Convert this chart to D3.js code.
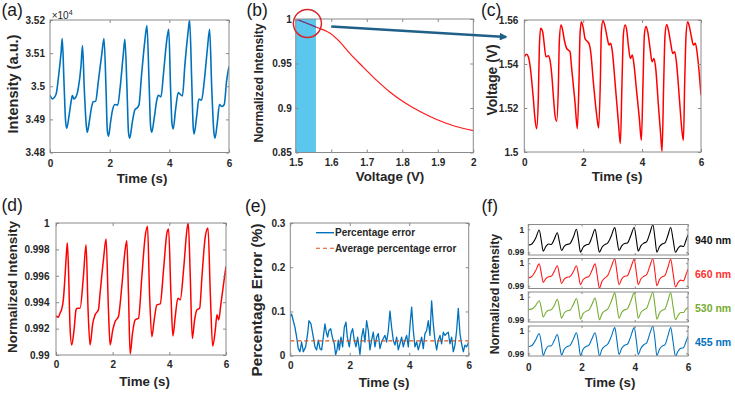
<!DOCTYPE html>
<html>
<head>
<meta charset="utf-8">
<script src="https://cdn.jsdelivr.net/npm/d3@7"></script>
<style>
  body { margin: 0; background: #fff; }
  svg { display: block; font-family: "Liberation Sans", Arial, sans-serif; }
</style>
</head>
<body>
<div id="chart"></div>
<script>
// ---- data ----
const timeTicks = [0, 2, 4, 6];

// (a) raw intensity, in units of 1e4
const aTime = [0.00,0.08,0.20,0.30,0.37,0.41,0.47,0.52,0.56,0.64,0.71,0.75,0.80,0.86,0.95,1.04,1.09,1.15,1.22,1.25,1.32,1.40,1.45,1.53,1.62,1.74,1.81,1.88,1.92,1.96,2.03,2.10,2.18,2.27,2.35,2.46,2.51,2.58,2.63,2.67,2.76,2.85,2.90,2.98,3.07,3.18,3.25,3.32,3.37,3.41,3.49,3.58,3.63,3.72,3.80,3.91,3.98,4.04,4.09,4.13,4.21,4.30,4.36,4.44,4.52,4.63,4.68,4.75,4.80,4.83,4.92,4.99,5.08,5.17,5.28,5.35,5.42,5.49,5.53,5.61,5.68,5.76,5.84,5.92,6.00];
const aIntensity = [3.4973,3.4962,3.4975,3.5040,3.5100,3.5144,3.5010,3.4898,3.4873,3.4912,3.4955,3.4972,3.4962,3.4966,3.4995,3.5062,3.5123,3.4990,3.4878,3.4861,3.4895,3.4940,3.4953,3.4955,3.5015,3.5100,3.5144,3.4985,3.4868,3.4849,3.4892,3.4930,3.4945,3.4943,3.4995,3.5100,3.5142,3.4995,3.4862,3.4843,3.4892,3.4930,3.4933,3.4943,3.5035,3.5138,3.5183,3.5015,3.4882,3.4861,3.4902,3.4958,3.4973,3.4968,3.5034,3.5136,3.5172,3.4998,3.4886,3.4871,3.4930,3.4981,3.4976,3.4971,3.5063,3.5165,3.5200,3.5018,3.4877,3.4856,3.4912,3.4961,3.4958,3.5015,3.5117,3.5172,3.4998,3.4865,3.4843,3.4892,3.4945,3.4939,3.4945,3.5016,3.5060];
const aTicks = [3.48, 3.49, 3.5, 3.51, 3.52];

// (b) normalized intensity vs voltage
const bVoltage = [1.5,1.559,1.597,1.625,1.653,1.69,1.728,1.765,1.803,1.85,1.897,1.944,2.0];
const bNormIntensity = [1.0,0.9907,0.984,0.974,0.961,0.946,0.931,0.918,0.907,0.896,0.887,0.880,0.8746];
const bVoltTicks = [1.5, 1.6, 1.7, 1.8, 1.9, 2];
const bTicks = [0.85, 0.9, 0.95, 1];
const bBand = [1.5, 1.557];

// (c) voltage
const cTime = [0.000,0.079,0.136,0.193,0.306,0.362,0.419,0.476,0.510,0.555,0.623,0.668,0.736,0.815,0.872,0.929,0.985,1.042,1.099,1.155,1.189,1.246,1.302,1.359,1.438,1.495,1.552,1.608,1.721,1.801,1.857,1.891,1.937,2.005,2.061,2.152,2.208,2.254,2.344,2.458,2.525,2.582,2.616,2.673,2.741,2.820,2.877,2.933,2.990,3.080,3.194,3.262,3.318,3.364,3.420,3.477,3.533,3.601,3.669,3.726,3.816,3.907,3.975,4.032,4.077,4.134,4.190,4.270,4.337,4.405,4.462,4.553,4.632,4.677,4.734,4.779,4.836,4.904,4.972,5.040,5.108,5.176,5.266,5.357,5.402,5.447,5.493,5.549,5.606,5.685,5.742,5.810,5.878,5.946,6.000];
const cVoltage = [1.5433,1.5444,1.5433,1.5395,1.5243,1.5152,1.5106,1.5243,1.5471,1.5562,1.5547,1.5501,1.5433,1.5437,1.5418,1.5357,1.5258,1.5167,1.5140,1.5289,1.5501,1.5577,1.5554,1.5509,1.5471,1.5463,1.5456,1.5380,1.5228,1.5106,1.5319,1.5532,1.5592,1.5562,1.5516,1.5501,1.5489,1.5456,1.5319,1.5167,1.5109,1.5319,1.5547,1.5598,1.5570,1.5516,1.5486,1.5494,1.5456,1.5319,1.5137,1.5038,1.5319,1.5532,1.5577,1.5554,1.5486,1.5425,1.5441,1.5395,1.5273,1.5152,1.5053,1.5319,1.5532,1.5570,1.5547,1.5471,1.5410,1.5425,1.5380,1.5213,1.5076,1.5003,1.5319,1.5532,1.5580,1.5547,1.5494,1.5448,1.5456,1.5395,1.5243,1.5091,1.5053,1.5319,1.5532,1.5592,1.5570,1.5516,1.5486,1.5494,1.5441,1.5349,1.5258];
const cTicks = [1.5, 1.52, 1.54, 1.56];

// (d) normalized intensity
const dTime = [0,0.083,0.141,0.200,0.259,0.318,0.377,0.401,0.448,0.495,0.554,0.637,0.707,0.754,0.849,0.967,1.061,1.132,1.202,1.297,1.379,1.497,1.556,1.674,1.768,1.851,1.910,2.004,2.087,2.204,2.322,2.440,2.499,2.558,2.617,2.700,2.794,2.912,3.030,3.148,3.230,3.301,3.383,3.466,3.560,3.678,3.796,3.914,3.973,4.055,4.126,4.208,4.303,4.385,4.503,4.621,4.668,4.739,4.810,4.892,4.975,5.069,5.152,5.270,5.364,5.446,5.529,5.623,5.682,5.741,5.823,5.918,6.000];
const dNormIntensity = [0.99296,0.99286,0.99316,0.99347,0.99418,0.99595,0.99797,0.99848,0.99595,0.99215,0.99076,0.99190,0.99342,0.99354,0.99354,0.99595,0.99835,0.99342,0.99076,0.99240,0.99304,0.99342,0.99468,0.99721,0.99878,0.99342,0.99076,0.99190,0.99253,0.99291,0.99519,0.99797,0.99866,0.99468,0.99007,0.99164,0.99266,0.99278,0.99595,0.99899,0.99975,0.99468,0.99139,0.99266,0.99380,0.99387,0.99646,0.99924,0.99954,0.99468,0.99144,0.99291,0.99430,0.99418,0.99646,0.99949,1.00000,0.99595,0.99126,0.99266,0.99342,0.99354,0.99595,0.99899,0.99962,0.99468,0.99068,0.99190,0.99304,0.99266,0.99392,0.99544,0.99671];
const dTicks = [0.99, 0.992, 0.994, 0.996, 0.998, 1];

// (e) percentage error
const eTime = [0.000,0.045,0.100,0.157,0.213,0.269,0.325,0.381,0.437,0.516,0.583,0.628,0.695,0.774,0.830,0.886,0.942,0.998,1.054,1.110,1.166,1.211,1.256,1.300,1.357,1.413,1.480,1.525,1.570,1.614,1.648,1.704,1.760,1.816,1.872,1.917,1.984,2.040,2.096,2.152,2.209,2.265,2.343,2.399,2.455,2.511,2.567,2.623,2.679,2.735,2.791,2.848,2.904,2.960,3.016,3.072,3.128,3.184,3.240,3.296,3.352,3.408,3.464,3.520,3.576,3.632,3.688,3.744,3.800,3.857,3.913,3.969,4.025,4.081,4.137,4.193,4.249,4.305,4.361,4.417,4.473,4.529,4.585,4.641,4.697,4.753,4.809,4.865,4.922,4.978,5.034,5.090,5.146,5.202,5.258,5.314,5.370,5.426,5.482,5.538,5.594,5.650,5.706,5.762,5.818,5.874,5.930,6.000];
const eError = [0.088,0.094,0.079,0.064,0.042,0.016,0.009,0.031,0.009,0.020,0.050,0.079,0.072,0.042,0.020,0.013,0.035,0.016,0.013,0.042,0.072,0.053,0.042,0.057,0.061,0.042,0.027,0.002,0.013,0.035,0.013,0.042,0.020,0.064,0.076,0.042,0.020,0.050,0.061,0.035,0.020,0.042,0.003,0.042,0.061,0.031,0.079,0.057,0.013,0.035,0.053,0.020,0.042,0.050,0.016,0.031,0.039,0.046,0.031,0.057,0.101,0.064,0.035,0.024,0.042,0.013,0.027,0.042,0.020,0.035,0.046,0.020,0.068,0.110,0.057,0.020,0.031,0.013,0.027,0.042,0.016,0.050,0.057,0.079,0.046,0.124,0.072,0.035,0.013,0.035,0.046,0.027,0.053,0.046,0.050,0.053,0.027,0.042,0.009,0.024,0.057,0.107,0.050,0.027,0.009,0.024,0.020,0.031];
const eAverageError = 0.0335;
const eTicks = [0, 0.1, 0.2, 0.3];
const eLegend = ["Percentage error", "Average percentage error"];

// (f) four wavelengths
const fTime = [0.00,0.12,0.28,0.41,0.49,0.56,0.66,0.76,0.86,0.98,1.09,1.17,1.25,1.35,1.46,1.56,1.69,1.81,1.89,1.96,2.06,2.17,2.27,2.39,2.51,2.59,2.67,2.77,2.88,2.98,3.12,3.25,3.33,3.41,3.51,3.62,3.72,3.85,3.98,4.06,4.13,4.23,4.34,4.44,4.56,4.68,4.76,4.83,4.93,5.03,5.13,5.24,5.35,5.44,5.53,5.63,5.73,5.83,5.92,6.00];
const f940 = [0.9931,0.9935,0.9962,0.9997,0.9950, 0.9905,0.9925,0.9936,0.9934,0.9958,0.9985,0.9945, 0.9908,0.9926,0.9934,0.9937,0.9965,1.0000,0.9950, 0.9900,0.9922,0.9932,0.9935,0.9966,1.0000,0.9950, 0.9900,0.9922,0.9934,0.9940,0.9972,1.0008,0.9955, 0.9908,0.9928,0.9938,0.9940,0.9972,1.0008,0.9955, 0.9905,0.9928,0.9940,0.9945,0.9980,1.0020,0.9960, 0.9900,0.9925,0.9936,0.9940,0.9972,1.0008,0.9955, 0.9900,0.9918,0.9928,0.9925,0.9950,0.9977];
const f660 = [0.9935,0.9940,0.9968,0.9997,0.9955, 0.9915,0.9932,0.9940,0.9942,0.9965,0.9989,0.9950, 0.9910,0.9930,0.9938,0.9940,0.9962,0.9989,0.9945, 0.9905,0.9928,0.9937,0.9940,0.9968,0.9997,0.9945, 0.9889,0.9920,0.9935,0.9945,0.9985,1.0020,0.9960, 0.9905,0.9930,0.9942,0.9945,0.9980,1.0017,0.9958, 0.9905,0.9930,0.9942,0.9948,0.9985,1.0020,0.9960, 0.9900,0.9928,0.9940,0.9945,0.9980,1.0017,0.9955, 0.9895,0.9915,0.9925,0.9922,0.9948,0.9974];
const f530 = [0.9943,0.9945,0.9962,0.9982,0.9950, 0.9910,0.9930,0.9940,0.9942,0.9962,0.9989,0.9950, 0.9905,0.9928,0.9938,0.9940,0.9965,0.9992,0.9950, 0.9900,0.9925,0.9936,0.9940,0.9966,0.9994,0.9950, 0.9898,0.9925,0.9938,0.9945,0.9980,1.0017,0.9960, 0.9905,0.9930,0.9942,0.9946,0.9980,1.0017,0.9960, 0.9905,0.9930,0.9942,0.9948,0.9985,1.0020,0.9960, 0.9900,0.9928,0.9940,0.9945,0.9980,1.0017,0.9955, 0.9898,0.9918,0.9930,0.9930,0.9945,0.9951];
const f455 = [0.9929,0.9933,0.9960,0.9988,0.9945, 0.9890,0.9918,0.9932,0.9933,0.9958,0.9983,0.9940, 0.9892,0.9918,0.9930,0.9934,0.9962,0.9991,0.9945, 0.9890,0.9918,0.9930,0.9935,0.9964,0.9991,0.9945, 0.9888,0.9918,0.9932,0.9940,0.9975,1.0014,0.9955, 0.9895,0.9922,0.9936,0.9940,0.9975,1.0014,0.9955, 0.9895,0.9922,0.9938,0.9945,0.9985,1.0020,0.9960, 0.9890,0.9918,0.9932,0.9937,0.9975,1.0014,0.9950, 0.9888,0.9910,0.9922,0.9925,0.9950,0.9975];
const fWavelengths = ["940 nm", "660 nm", "530 nm", "455 nm"];
const fTicks = [0.99, 1];

// ---- drawing ----
const boxColor = "#8a8a8a";
const textColor = "#262626";
const FONT = '"Liberation Sans", Arial, sans-serif';

const svg = d3.select("#chart").append("svg")
  .attr("width", 735)
  .attr("height", 393);
const defs = svg.append("defs");
let clipCount = 0;

// MATLAB-like box axes with inward ticks on all four sides
function axesBox(o) {
  const x = d3.scaleLinear().domain(o.xDomain).range([o.left, o.right]);
  const y = d3.scaleLinear().domain(o.yDomain).range([o.bottom, o.top]);
  const tick = o.tick || 3;
  const g = svg.append("g");

  const clipId = "clip" + (clipCount++);
  defs.append("clipPath").attr("id", clipId).append("rect")
    .attr("x", o.left).attr("y", o.top)
    .attr("width", o.right - o.left).attr("height", o.bottom - o.top);
  const plot = g.append("g").attr("clip-path", `url(#${clipId})`);

  const axes = g.append("g");
  axes.append("g")
    .attr("transform", `translate(0,${o.bottom})`)
    .call(d3.axisBottom(x).tickValues(o.xTicks).tickSizeInner(-tick).tickSizeOuter(0)
      .tickPadding(o.xPad == null ? 6 : o.xPad)
      .tickFormat(o.showX === false ? "" : d => String(d)))
    .selectAll("text").style("font-size", (o.xFont || 10) + "px");
  axes.append("g")
    .attr("transform", `translate(0,${o.top})`)
    .call(d3.axisTop(x).tickValues(o.xTicks).tickSizeInner(-tick).tickSizeOuter(0).tickFormat(""));
  axes.append("g")
    .attr("transform", `translate(${o.left},0)`)
    .call(d3.axisLeft(y).tickValues(o.yTicks).tickSizeInner(-tick).tickSizeOuter(0)
      .tickPadding(o.yPad == null ? 5 : o.yPad)
      .tickFormat(d => String(d)))
    .selectAll("text").style("font-size", (o.yFont || 10) + "px");
  axes.append("g")
    .attr("transform", `translate(${o.right},0)`)
    .call(d3.axisRight(y).tickValues(o.yTicks).tickSizeInner(-tick).tickSizeOuter(0).tickFormat(""));

  axes.selectAll("g").attr("font-family", FONT);
  axes.selectAll(".domain").remove();
  axes.selectAll(".tick line").attr("stroke", boxColor);
  axes.selectAll(".tick text").attr("fill", textColor).style("font-weight", "bold");

  axes.append("rect")
    .attr("x", o.left).attr("y", o.top)
    .attr("width", o.right - o.left).attr("height", o.bottom - o.top)
    .attr("fill", "none").attr("stroke", boxColor).attr("stroke-width", 1);

  return { x, y, plot, g };
}

function xLabel(cx, baseline, text, size) {
  svg.append("text")
    .attr("x", cx).attr("y", baseline)
    .attr("text-anchor", "middle")
    .style("font-size", size + "px").style("font-weight", "bold")
    .attr("fill", textColor)
    .text(text);
}

function yLabel(cx, cy, text, size) {
  svg.append("text")
    .attr("transform", `translate(${cx},${cy}) rotate(-90)`)
    .attr("text-anchor", "middle")
    .attr("dy", "0.35em")
    .style("font-size", size + "px").style("font-weight", "bold")
    .attr("fill", textColor)
    .text(text);
}

function panelTag(x, y, text) {
  svg.append("text")
    .attr("x", x).attr("y", y)
    .style("font-size", "17.5px")
    .attr("fill", "#1a1a1a")
    .text(text);
}

function drawLine(p, xs, ys, color, width, curve) {
  const line = d3.line()
    .x(d => p.x(d[0]))
    .y(d => p.y(d[1]))
    .curve(curve || d3.curveMonotoneX);
  return p.plot.append("path")
    .datum(d3.zip(xs, ys))
    .attr("d", line)
    .attr("fill", "none")
    .attr("stroke", color)
    .attr("stroke-width", width)
    .attr("stroke-linejoin", "round");
}

// (a)
const pa = axesBox({ left: 50, right: 229, top: 20, bottom: 152.5,
  xDomain: [0, 6], yDomain: [3.48, 3.52], xTicks: timeTicks, yTicks: aTicks, xPad: 7.4, yPad: 5 });
drawLine(pa, aTime, aIntensity, "#0072BD", 1.6);
const expo = svg.append("text").attr("x", 51.7).attr("y", 18.5)
  .style("font-size", "10px").attr("fill", textColor);
expo.append("tspan").text("\u00d710");
expo.append("tspan").attr("dy", -4).style("font-size", "7px").text("4");
xLabel(142, 183, "Time (s)", 13.3);
yLabel(13, 84, "Intensity (a.u.)", 14.6);
panelTag(1.5, 16, "(a)");

// (b)
const pb = axesBox({ left: 295.7, right: 473.3, top: 19, bottom: 152.5,
  xDomain: [1.5, 2], yDomain: [0.85, 1], xTicks: bVoltTicks, yTicks: bTicks, xPad: 6.5, yPad: 4 });
pb.plot.append("rect")
  .attr("x", pb.x(bBand[0])).attr("y", pb.y(1))
  .attr("width", pb.x(bBand[1]) - pb.x(bBand[0]))
  .attr("height", pb.y(0.85) - pb.y(1))
  .attr("fill", "#5bc6ee");
drawLine(pb, bVoltage, bNormIntensity, "#ff1a1a", 1.2);
defs.append("clipPath").attr("id", "bandClip").append("rect")
  .attr("x", pb.x(bBand[0])).attr("y", pb.y(1))
  .attr("width", pb.x(bBand[1]) - pb.x(bBand[0]))
  .attr("height", pb.y(0.85) - pb.y(1));
drawLine(pb, bVoltage, bNormIntensity, "#4d4f9e", 1.2).attr("clip-path", "url(#bandClip)");
pb.g.append("circle")
  .attr("cx", pb.x(1.533)).attr("cy", pb.y(0.995)).attr("r", 14)
  .attr("fill", "none").attr("stroke", "#d8262b").attr("stroke-width", 1.5);
defs.append("marker").attr("id", "arrowHead")
  .attr("viewBox", "0 0 10 10").attr("refX", 8).attr("refY", 5)
  .attr("markerWidth", 3.6).attr("markerHeight", 3.2).attr("orient", "auto")
  .attr("markerUnits", "strokeWidth")
  .append("path").attr("d", "M0,0L10,5L0,10z").attr("fill", "#1f6088");
svg.append("line")
  .attr("x1", pb.x(1.6)).attr("y1", pb.y(0.9915))
  .attr("x2", pb.x(2.092)).attr("y2", pb.y(0.9798))
  .attr("stroke", "#1f6088").attr("stroke-width", 2.4)
  .attr("marker-end", "url(#arrowHead)");
xLabel(390, 181, "Voltage (V)", 13.3);
yLabel(259, 83, "Normalized Intensity", 12.2);
panelTag(246.5, 16, "(b)");

// (c)
const pc = axesBox({ left: 524.3, right: 701, top: 20, bottom: 152,
  xDomain: [0, 6], yDomain: [1.5, 1.56], xTicks: timeTicks, yTicks: cTicks, xPad: 7, yPad: 6 });
drawLine(pc, cTime, cVoltage, "#ff0000", 1.5);
xLabel(617, 181, "Time (s)", 13.3);
yLabel(492, 80, "Voltage (V)", 13.8);
panelTag(481, 16, "(c)");

// (d)
const pd = axesBox({ left: 56, right: 226, top: 223, bottom: 355,
  xDomain: [0, 6], yDomain: [0.99, 1], xTicks: timeTicks, yTicks: dTicks, xPad: 6, yPad: 6.5 });
drawLine(pd, dTime, dNormIntensity, "#ff0000", 1.5);
xLabel(144.5, 386, "Time (s)", 13.3);
yLabel(12, 287, "Normalized Intensity", 13.5);
panelTag(1.5, 211, "(d)");

// (e)
const pe = axesBox({ left: 290.3, right: 468.7, top: 223, bottom: 355.7,
  xDomain: [0, 6], yDomain: [0, 0.3], xTicks: timeTicks, yTicks: eTicks, xPad: 6, yPad: 5 });
drawLine(pe, eTime, eError, "#0072BD", 1.3, d3.curveLinear);
pe.plot.append("line")
  .attr("x1", pe.x(0)).attr("x2", pe.x(6))
  .attr("y1", pe.y(eAverageError)).attr("y2", pe.y(eAverageError))
  .attr("stroke", "#D95319").attr("stroke-width", 1.1).attr("stroke-dasharray", "4,3");
const legend = pe.g.append("g");
[0, 1].forEach(i => {
  const yy = 232.7 + i * 15.6;
  legend.append("line")
    .attr("x1", 316).attr("x2", 334).attr("y1", yy).attr("y2", yy)
    .attr("stroke", i === 0 ? "#0072BD" : "#D95319")
    .attr("stroke-width", i === 0 ? 1.4 : 1.1)
    .attr("stroke-dasharray", i === 0 ? null : "4,3");
  legend.append("text")
    .attr("x", 335).attr("y", yy).attr("dy", "0.35em")
    .style("font-size", "10px").style("font-weight", "bold")
    .attr("fill", textColor)
    .text(eLegend[i]);
});
xLabel(384, 387, "Time (s)", 13.3);
yLabel(257, 300, "Percentage Error (%)", 15.4);
panelTag(245, 212, "(e)");

// (f)
const fSeries = [f940, f660, f530, f455];
const fColors = ["#000000", "#ff1a1a", "#77AC30", "#0072BD"];
const fLabelColors = ["#111111", "#ff3333", "#77AC30", "#0072BD"];
const fBoxes = [[224.5, 255], [258.5, 288.5], [292, 322], [326, 356]];
fSeries.forEach((vals, i) => {
  const pf = axesBox({ left: 528.3, right: 688, top: fBoxes[i][0], bottom: fBoxes[i][1],
    xDomain: [0, 6], yDomain: [0.9888, 1.0021], xTicks: timeTicks, yTicks: fTicks,
    showX: i === 3, tick: 2, xPad: 8, yPad: 4, yFont: 8.5 });
  drawLine(pf, fTime, vals, fColors[i], 1.1);
  svg.append("text")
    .attr("x", 695).attr("y", (fBoxes[i][0] + fBoxes[i][1]) / 2 + 1)
    .attr("dy", "0.35em")
    .style("font-size", "10.5px").style("font-weight", "bold")
    .attr("fill", fLabelColors[i])
    .text(fWavelengths[i]);
});
xLabel(610, 387, "Time (s)", 13.3);
yLabel(495, 294, "Normalized Intensity", 12.3);
panelTag(481.5, 212, "(f)");
</script>
</body>
</html>
